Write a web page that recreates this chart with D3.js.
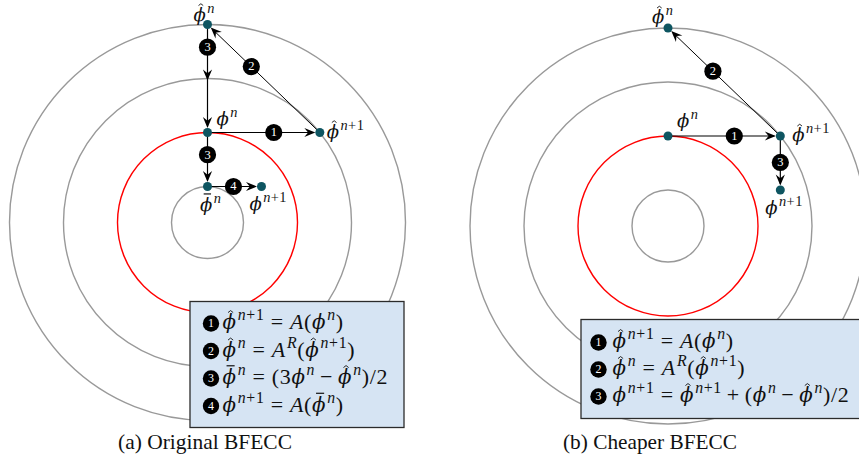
<!DOCTYPE html>
<html>
<head>
<meta charset="utf-8">
<script src="https://cdn.jsdelivr.net/npm/d3@7"></script>
<style>
  body { margin: 0; background: #fff; }
  svg { display: block; }
</style>
</head>
<body>
<svg id="fig" width="859" height="461"></svg>
<script>
// Concentric level-set rings, in field units (the red one is the advected front)
const ringRadii = [1, 2.5, 4, 5.5];
const frontRing = 2.5;

// (a) Original BFECC: sample positions in field units
const pointsA = [
  { id: "phi",        x: 0,    y: 2.5 },
  { id: "phiHatNext", x: 3.12, y: 2.5 },
  { id: "phiHat",     x: 0,    y: 5.5 },
  { id: "phiBar",     x: 0,    y: 1 },
  { id: "phiNext",    x: 1.5,  y: 1 }
];
// steps: [badge number, from, to, has mid arrow]
const stepsA = [
  [1, "phi", "phiHatNext", false],
  [2, "phiHatNext", "phiHat", false],
  [3, "phiHat", "phi", true],
  [3, "phi", "phiBar", false],
  [4, "phiBar", "phiNext", false]
];
// point labels (H = hat phi, B = bar phi, P = phi)
const labelsA = [
  ["phiHat", "H^{n}"],
  ["phi", "P^{n}"],
  ["phiHatNext", "H^{n+1}"],
  ["phiBar", "B^{n}"],
  ["phiNext", "P^{n+1}"]
];
const equationsA = [
  "H^{n+1} = A(P^{n})",
  "H^{n} = A^{R}(H^{n+1})",
  "B^{n} = (3P^{n} − H^{n})/2",
  "P^{n+1} = A(B^{n})"
];
const captionA = "(a) Original BFECC";

// (b) Cheaper BFECC
const pointsB = [
  { id: "phi",        x: 0,    y: 2.5 },
  { id: "phiHatNext", x: 3.12, y: 2.5 },
  { id: "phiHat",     x: 0,    y: 5.5 },
  { id: "phiNext",    x: 3.12, y: 1 }
];
const stepsB = [
  [1, "phi", "phiHatNext", false],
  [2, "phiHatNext", "phiHat", false],
  [3, "phiHatNext", "phiNext", false]
];
const labelsB = [
  ["phiHat", "H^{n}"],
  ["phi", "P^{n}"],
  ["phiHatNext", "H^{n+1}"],
  ["phiNext", "P^{n+1}"]
];
const equationsB = [
  "H^{n+1} = A(P^{n})",
  "H^{n} = A^{R}(H^{n+1})",
  "P^{n+1} = H^{n+1} + (P^{n} − H^{n})/2"
];
const captionB = "(b) Cheaper BFECC";

// ---- layout -------------------------------------------------------------
const SERIF = "'Liberation Serif', 'Times New Roman', Tinos, Times, 'DejaVu Serif', serif";
const PHI_FONT = "'DejaVu Serif', serif";
const UNIT = 36;
const DOT_R = 4.5;
const DOT_COLOR = "#0e5561";
const layoutA = {
  cx: 207.5, cy: 222.5,
  badgeAt: [0.59, 0.61, 0.21, 0.41, 0.48],
  labelOffset: { phiHat: [-14, -4], phi: [9, -8], phiHatNext: [7, 5], phiBar: [-7.5, 24], phiNext: [-12, 23] },
  box: { x: 190, y: 301.5, w: 214, h: 126 },
  rowBadgeX: 211, rowTextX: 222.5, rowY0: 329, rowStep: 27.5,
  captionX: 205
};
const layoutB = {
  cx: 668, cy: 226,
  badgeAt: [0.59, 0.6, 0.49],
  labelOffset: { phiHat: [-16, -5], phi: [9, -9], phiHatNext: [12, 5], phiNext: [-15, 24] },
  box: { x: 581, y: 319.5, w: 300, h: 99 },
  rowBadgeX: 598.5, rowTextX: 612.5, rowY0: 348, rowStep: 27,
  captionX: 650
};
const LABEL_SIZE = 20;
const EQ_SIZE = 22;
const TRACK = 0.03;   // extra space after each math token, in em

const svg = d3.select("#fig");

// ---- tiny math typesetter ----------------------------------------------
function parseExpr(s) {
  const toks = [];
  let sup = false;
  for (let i = 0; i < s.length; i++) {
    const c = s[i];
    if (c === "^") { sup = true; i++; continue; }
    if (c === "}") { sup = false; continue; }
    if (c === " ") continue;
    if ("PHB".includes(c)) toks.push({ t: "ϕ", it: true, phi: true, acc: c === "H" ? "hat" : c === "B" ? "bar" : null, sup });
    else if (/[A-Za-z]/.test(c)) toks.push({ t: c, it: true, sup });
    else if (c === "=") toks.push({ t: c, it: false, sup, op: "rel" });
    else if (c === "+" || c === "−") toks.push({ t: c, it: false, sup, op: sup ? null : "bin" });
    else toks.push({ t: c, it: false, sup });
  }
  return toks;
}

function drawMath(g, x0, y0, expr, size, track) {
  let cx = x0;
  parseExpr(expr).forEach((tk, i, arr) => {
    const fs = (tk.sup ? size * 0.72 : size) * (tk.phi ? 0.9 : 1);
    const gap = tk.op === "rel" ? size * 0.28 : tk.op === "bin" ? size * 0.22 : 0;
    cx += gap;
    const yy = tk.sup ? y0 - size * 0.4 : y0;
    const t = g.append("text")
      .attr("x", cx).attr("y", yy)
      .attr("font-family", tk.phi ? PHI_FONT : SERIF)
      .attr("font-size", fs)
      .attr("font-style", tk.it ? "italic" : "normal")
      .attr("fill", "#111")
      .text(tk.t);
    const w = t.node().getComputedTextLength();
    if (tk.acc === "hat") {
      const hx = cx + w * 0.6, hy = yy - fs * 0.93, hw = fs * 0.13;
      g.append("path")
        .attr("d", `M${hx - hw},${hy + fs * 0.1}L${hx},${hy}L${hx + hw},${hy + fs * 0.1}`)
        .attr("fill", "none").attr("stroke", "#111").attr("stroke-width", 0.9);
    } else if (tk.acc === "bar") {
      const by = yy - fs * 0.92;
      g.append("line")
        .attr("x1", cx + w * 0.3).attr("x2", cx + w * 0.9)
        .attr("y1", by).attr("y2", by)
        .attr("stroke", "#111").attr("stroke-width", 1.2);
    }
    cx += w + gap + size * track;
    // small italic correction before a superscript
    const nxt = arr[i + 1];
    if (tk.it && !tk.sup && nxt && nxt.sup) cx += size * 0.05;
  });
  return cx;
}

function badge(g, x, y, n, r) {
  g.append("circle").attr("cx", x).attr("cy", y).attr("r", r).attr("fill", "#000");
  g.append("text")
    .attr("x", x).attr("y", y + r * 0.45)
    .attr("text-anchor", "middle")
    .attr("font-family", SERIF)
    .attr("font-size", r * 1.45)
    .attr("fill", "#fff")
    .text(n);
}

// stealth-style arrow head pointing along +x with the tip at the origin
const ARROW_HEAD = "M0,0L-11,-4.6L-7.2,0L-11,4.6Z";

function panel(points, steps, labels, equations, caption, L) {
  const g = svg.append("g");
  const x = d3.scaleLinear().domain([0, 1]).range([L.cx, L.cx + UNIT]);
  const y = d3.scaleLinear().domain([0, 1]).range([L.cy, L.cy - UNIT]);
  const r = d3.scaleLinear().domain([0, 1]).range([0, UNIT]);
  const byId = new Map(points.map(p => [p.id, p]));

  // rings
  g.append("g").selectAll("circle")
    .data(ringRadii)
    .join("circle")
    .attr("cx", x(0)).attr("cy", y(0))
    .attr("r", d => r(d))
    .attr("fill", "none")
    .attr("stroke", d => d === frontRing ? "#ff0000" : "#999")
    .attr("stroke-width", 1.4);

  // step arrows
  const ga = g.append("g");
  steps.forEach(([n, from, to, mid]) => {
    const a = byId.get(from), b = byId.get(to);
    const x0 = x(a.x), y0 = y(a.y), x1 = x(b.x), y1 = y(b.y);
    const len = Math.hypot(x1 - x0, y1 - y0);
    const ux = (x1 - x0) / len, uy = (y1 - y0) / len;
    const ang = Math.atan2(uy, ux) * 180 / Math.PI;
    ga.append("line")
      .attr("x1", x0).attr("y1", y0).attr("x2", x1 - ux * 6).attr("y2", y1 - uy * 6)
      .attr("stroke", "#000").attr("stroke-width", n === 2 ? 1 : 1.2);
    const tips = [[x1 - ux * DOT_R, y1 - uy * DOT_R]];
    if (mid) tips.push([x0 + ux * (len / 2 + 2), y0 + uy * (len / 2 + 2)]);
    tips.forEach(([tx, ty]) => {
      ga.append("path").attr("d", ARROW_HEAD)
        .attr("transform", `translate(${tx},${ty}) rotate(${ang})`)
        .attr("fill", "#000");
    });
  });

  // sample dots
  g.append("g").selectAll("circle")
    .data(points)
    .join("circle")
    .attr("cx", d => x(d.x)).attr("cy", d => y(d.y))
    .attr("r", DOT_R)
    .attr("fill", DOT_COLOR);

  // step badges
  steps.forEach(([n, from, to], i) => {
    const a = byId.get(from), b = byId.get(to);
    const t = L.badgeAt[i];
    badge(g, x(a.x) + t * (x(b.x) - x(a.x)), y(a.y) + t * (y(b.y) - y(a.y)), n, 8.6);
  });

  // point labels
  const gl = g.append("g");
  labels.forEach(([id, expr]) => {
    const p = byId.get(id);
    const [dx, dy] = L.labelOffset[id];
    drawMath(gl, x(p.x) + dx, y(p.y) + dy, expr, LABEL_SIZE, 0.02);
  });

  // legend box
  const gb = g.append("g");
  gb.append("rect")
    .attr("x", L.box.x).attr("y", L.box.y)
    .attr("width", L.box.w).attr("height", L.box.h)
    .attr("fill", "#d6e4f3").attr("stroke", "#2b2b2b").attr("stroke-width", 1.3);
  equations.forEach((eq, i) => {
    const by = L.rowY0 + i * L.rowStep;
    badge(gb, L.rowBadgeX, by - 5.5, i + 1, 8.2);
    drawMath(gb, L.rowTextX, by, eq, EQ_SIZE, TRACK);
  });

  // caption
  g.append("text")
    .attr("x", L.captionX).attr("y", 449)
    .attr("text-anchor", "middle")
    .attr("font-family", SERIF)
    .attr("font-size", 21)
    .attr("textLength", 174)
    .attr("lengthAdjust", "spacingAndGlyphs")
    .attr("fill", "#111")
    .text(caption);
}

panel(pointsA, stepsA, labelsA, equationsA, captionA, layoutA);
panel(pointsB, stepsB, labelsB, equationsB, captionB, layoutB);
</script>
</body>
</html>
